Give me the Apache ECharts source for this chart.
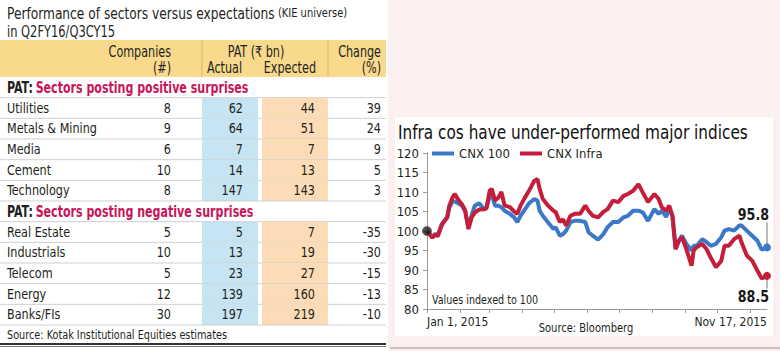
<!DOCTYPE html>
<html>
<head>
<meta charset="utf-8">
<script src="https://cdn.jsdelivr.net/npm/echarts@6/dist/echarts.min.js"></script>
<style>
html, body { margin: 0; padding: 0; background: #fcefef; }
#chart { width: 780px; height: 351px; }
</style>
</head>
<body>
<div id="chart"></div>
<script>
// ---- table data (Q2FY16/Q3CY15) ----
const positiveSectors = ['Utilities', 'Metals & Mining', 'Media', 'Cement', 'Technology'];
const positiveCompanies = [8, 9, 6, 10, 8];
const positiveActual = [62, 64, 7, 14, 147];
const positiveExpected = [44, 51, 7, 13, 143];
const positiveChange = [39, 24, 9, 5, 3];

const negativeSectors = ['Real Estate', 'Industrials', 'Telecom', 'Energy', 'Banks/FIs'];
const negativeCompanies = [5, 10, 5, 12, 30];
const negativeActual = [5, 13, 23, 139, 197];
const negativeExpected = [7, 19, 27, 160, 219];
const negativeChange = [-35, -30, -15, -13, -10];

// ---- index data (indexed to 100 on Jan 1, 2015) ----
const dates = [
	'2015-01-01', '2015-01-06', '2015-01-09', '2015-01-11', '2015-01-15', '2015-01-20', '2015-01-22',
	'2015-01-25', '2015-01-27', '2015-01-31', '2015-02-03', '2015-02-06', '2015-02-09', '2015-02-12',
	'2015-02-15', '2015-02-19', '2015-02-24', '2015-02-26', '2015-03-01', '2015-03-03', '2015-03-06',
	'2015-03-09', '2015-03-12', '2015-03-15', '2015-03-20', '2015-03-24', '2015-03-27', '2015-03-30',
	'2015-04-03', '2015-04-07', '2015-04-12', '2015-04-15', '2015-04-17', '2015-04-20', '2015-04-25',
	'2015-04-30', '2015-05-02', '2015-05-06', '2015-05-09', '2015-05-12', '2015-05-16', '2015-05-20',
	'2015-05-25', '2015-05-30', '2015-06-02', '2015-06-06', '2015-06-11', '2015-06-16', '2015-06-20',
	'2015-06-25', '2015-06-30', '2015-07-05', '2015-07-09', '2015-07-14', '2015-07-19', '2015-07-23',
	'2015-07-28', '2015-08-03', '2015-08-07', '2015-08-10', '2015-08-14', '2015-08-17', '2015-08-20',
	'2015-08-23', '2015-08-26', '2015-08-29', '2015-09-02', '2015-09-07', '2015-09-09', '2015-09-12',
	'2015-09-17', '2015-09-21', '2015-09-25', '2015-09-30', '2015-10-05', '2015-10-08', '2015-10-12',
	'2015-10-17', '2015-10-22', '2015-10-24', '2015-10-29', '2015-11-03', '2015-11-08', '2015-11-12',
	'2015-11-17'
];
const cnx100 = [
	100, 98.5, 99.2, 98.8, 101.8, 103.5, 106, 107.5, 107.6, 107, 106.5, 105, 100.8, 104,
	106.5, 107.1, 105.6, 105.9, 109, 109.5, 106.5, 106.5, 106.1, 105.2, 104.4, 103.5, 102.3, 103.9,
	105.5, 107.1, 108.2, 107.8, 105.2, 103.9, 102.2, 100.5, 101, 98.8, 99.2, 100.1, 102.3, 102.6,
	102.6, 102.3, 99.7, 98.8, 97.8, 99.2, 101, 102.3, 102.3, 103.5, 103.9, 105.2, 105.2, 104.8,
	102.6, 105.6, 104.4, 105.2, 103.6, 105.6, 103.9, 95.4, 97.5, 98.8, 96.7, 95, 96.2, 96.2,
	97.9, 97.2, 96.2, 96.7, 98.4, 100.1, 100.5, 100.1, 101.4, 101.4, 100.1, 98.8, 97.5, 95.2,
	95.8
];
const cnxInfra = [
	100, 98.3, 99.2, 98.6, 101.6, 103.5, 106.5, 108.6, 109.5, 107.8, 106.8, 105.2, 100.5, 103.5,
	104.7, 105.5, 105.6, 105.9, 110.3, 110.8, 107.8, 108.5, 110, 106.6, 106.1, 105, 104.4, 106.5,
	108.5, 110.3, 112.9, 113.3, 110.8, 108.2, 106.5, 105.2, 104.9, 102.3, 103, 101.4, 103.9, 104.4,
	104.4, 106.5, 105.2, 103.9, 103.5, 104.9, 105.6, 107.8, 107.4, 109, 109.5, 110.3, 112, 109.9,
	107.4, 109.5, 108.2, 106.1, 105.2, 106.5, 103.9, 95.4, 97.5, 98.4, 95.4, 91.1, 95, 95.9,
	96.7, 95.4, 93.2, 90.7, 92.4, 96.2, 96.2, 97.9, 98.8, 97.1, 93.7, 92.4, 89.8, 87.8,
	88.5
];
const monthTicks = [
	'2015-01-01', '2015-02-01', '2015-03-01', '2015-04-01', '2015-05-01', '2015-06-01',
	'2015-07-01', '2015-08-01', '2015-09-01', '2015-10-01', '2015-11-01'
];
const yTicks = { min: 80, max: 120, interval: 5 };
const seriesNames = [ 'CNX 100', 'CNX Infra' ];

// ---- look ---
const FONT = '"Liberation Sans Narrow", "DejaVu Sans Condensed", "Roboto Condensed", Roboto, sans-serif';
const BLUE = '#3c78c8';
const RED = '#c41e3a';
const INK = '#231f20';
const CRIMSON = '#c8155a';
const MONTHS = [ 'Jan', 'Feb', 'Mar', 'Apr', 'May', 'Jun', 'Jul', 'Aug', 'Sep', 'Oct', 'Nov', 'Dec' ];

// column positions inside the table grid (x axis runs 0..388 px)
const tableCols = {
	name: 7,
	companies: 171,
	actual: 243,
	expected: 315,
	change: 381,
	actualBand: [ 202, 258 ],
	expectedBand: [ 262, 328 ],
	right: 386
};

// dates are drawn on a numeric (timestamp) axis so ticks can sit on month starts
const toTime = function ( s ) {
	const p = s.split( '-' ).map( Number );
	return new Date( p[ 0 ], p[ 1 ] - 1, p[ 2 ] ).getTime();
};

// plain text element, squeezed sideways because the source face is condensed
const label = function ( x, y, text, font, align, squeeze, fill ) {
	return {
		type: 'text',
		x: x,
		y: y,
		scaleX: squeeze || 1,
		style: {
			text: String( text ),
			fill: fill || INK,
			font: font + ' ' + FONT,
			align: align || 'left',
			verticalAlign: 'middle'
		}
	};
};

// rows of the table: a section heading followed by its sectors
const tableRows = [];
const pushSection = function ( title, sectors, companies, actual, expected, change ) {
	tableRows.push( { section: title } );
	sectors.forEach( ( name, i ) => {
		tableRows.push( {
			name: name,
			companies: companies[ i ],
			actual: actual[ i ],
			expected: expected[ i ],
			change: change[ i ]
		} );
	} );
};
pushSection( 'Sectors posting positive surprises', positiveSectors, positiveCompanies,
	positiveActual, positiveExpected, positiveChange );
pushSection( 'Sectors posting negative surprises', negativeSectors, negativeCompanies,
	negativeActual, negativeExpected, negativeChange );

const renderTableRow = function ( params, api ) {
	const row = tableRows[ params.dataIndex ];
	const mid = api.coord( [ 0, api.value( 1 ) ] )[ 1 ];
	const h = api.size( [ 0, 1 ] )[ 1 ];
	const top = mid - h / 2;
	const px = ( v ) => api.coord( [ v, 0 ] )[ 0 ];
	const children = [];

	if ( row.section ) {
		children.push( {
			type: 'text',
			x: px( tableCols.name ),
			y: mid,
			scaleX: 0.82,
			style: {
				text: '{a|PAT:} {b|' + row.section + '}',
				verticalAlign: 'middle',
				rich: {
					a: { fill: INK, font: 'bold 15px ' + FONT },
					b: { fill: CRIMSON, font: 'bold 15px ' + FONT }
				}
			}
		} );
	} else {
		children.push( {
			type: 'rect',
			shape: { x: px( tableCols.actualBand[ 0 ] ), y: top, width: px( tableCols.actualBand[ 1 ] ) - px( tableCols.actualBand[ 0 ] ), height: h },
			style: { fill: '#c6e4f2' }
		} );
		children.push( {
			type: 'rect',
			shape: { x: px( tableCols.expectedBand[ 0 ] ), y: top, width: px( tableCols.expectedBand[ 1 ] ) - px( tableCols.expectedBand[ 0 ] ), height: h },
			style: { fill: '#fcdcb6' }
		} );
		children.push( label( px( tableCols.name ), mid, row.name, '14px', 'left', 0.89 ) );
		children.push( label( px( tableCols.companies ), mid, row.companies, '14px', 'right', 0.89 ) );
		children.push( label( px( tableCols.actual ), mid, row.actual, '14px', 'right', 0.89 ) );
		children.push( label( px( tableCols.expected ), mid, row.expected, '14px', 'right', 0.89 ) );
		children.push( label( px( tableCols.change ), mid, row.change, '14px', 'right', 0.89 ) );
	}
	// row separator
	children.push( {
		type: 'line',
		shape: { x1: px( 0 ), y1: top + h, x2: px( tableCols.right ), y2: top + h },
		style: { stroke: '#cfcfcf', lineWidth: 1 }
	} );
	return { type: 'group', children: children };
};

// end-of-line value markers (dot, leader and value)
const endColors = [ BLUE, RED ];
const endMarks = [
	[ toTime( dates[ dates.length - 1 ] ), cnx100[ cnx100.length - 1 ], 1 ],
	[ toTime( dates[ dates.length - 1 ] ), cnxInfra[ cnxInfra.length - 1 ], -1 ]
];
const renderEndMark = function ( params, api ) {
	const pt = api.coord( [ api.value( 0 ), api.value( 1 ) ] );
	const up = api.value( 2 ) > 0;
	return {
		type: 'group',
		children: [
			{
				type: 'line',
				shape: { x1: pt[ 0 ], y1: pt[ 1 ], x2: pt[ 0 ], y2: up ? pt[ 1 ] - 25 : pt[ 1 ] + 13 },
				style: { stroke: '#777', lineWidth: 1 }
			},
			{
				type: 'circle',
				shape: { cx: pt[ 0 ], cy: pt[ 1 ], r: 4 },
				style: { fill: endColors[ params.dataIndex ] }
			},
			label( pt[ 0 ] + 2, up ? pt[ 1 ] - 33 : pt[ 1 ] + 21, api.value( 1 ).toFixed( 1 ), 'bold 16px', 'right', 0.88, '#1a1a1a' )
		]
	};
};

const chart = echarts.init( document.getElementById( 'chart' ), null, { renderer: 'svg' } );

chart.setOption( {
	animation: false,
	backgroundColor: '#fcefef',
	textStyle: { fontFamily: FONT },
	graphic: [
		// panels
		{ type: 'rect', shape: { x: 0, y: 0, width: 388, height: 351 }, style: { fill: '#ffffff' } },
		{ type: 'rect', shape: { x: 395, y: 117, width: 378, height: 219 }, style: { fill: '#ffffff' } },
		{ type: 'rect', shape: { x: 0, y: 343, width: 386, height: 2 }, style: { fill: '#333333' } },
		{ type: 'rect', shape: { x: 0, y: 346, width: 386, height: 1 }, style: { fill: '#777777' } },
		{ type: 'rect', shape: { x: 390, y: 347, width: 390, height: 2 }, style: { fill: '#c8c0c0' } },
		// table title
		{
			type: 'text', x: 7, y: 13, scaleX: 0.85,
			style: {
				text: '{a|Performance of sectors versus expectations} {b|(KIE universe)}',
				verticalAlign: 'middle',
				rich: {
					a: { fill: INK, font: '16px ' + FONT },
					b: { fill: INK, font: '13px ' + FONT }
				}
			}
		},
		label( 7, 32, 'in Q2FY16/Q3CY15', '15px', 'left', 0.85 ),
		// header band
		{ type: 'rect', shape: { x: 0, y: 40, width: 386, height: 37 }, style: { fill: '#f9d98c' } },
		{ type: 'line', shape: { x1: 202, y1: 40, x2: 202, y2: 77 }, style: { stroke: '#d9b56a', lineWidth: 1 } },
		{ type: 'line', shape: { x1: 328, y1: 40, x2: 328, y2: 77 }, style: { stroke: '#d9b56a', lineWidth: 1 } },
		label( 171, 52, 'Companies', '15px', 'right', 0.83 ),
		label( 171, 68, '(#)', '15px', 'right', 0.83 ),
		label( 256, 52, 'PAT (₹ bn)', '15px', 'center', 0.83 ),
		label( 207, 68, 'Actual', '15px', 'left', 0.83 ),
		label( 316, 68, 'Expected', '15px', 'right', 0.83 ),
		label( 381, 52, 'Change', '15px', 'right', 0.83 ),
		label( 381, 68, '(%)', '15px', 'right', 0.83 ),
		label( 7, 335, 'Source: Kotak Institutional Equities estimates', '13px', 'left', 0.83 ),
		// line chart texts
		label( 398, 132, 'Infra cos have under-performed major indices', '20px', 'left', 0.85, '#111' ),
		label( 432, 300, 'Values indexed to 100', '13px', 'left', 0.82 ),
		label( 586, 328, 'Source: Bloomberg', '13px', 'center', 0.85 )
	],
	legend: {
		data: seriesNames,
		left: 432,
		top: 147,
		padding: 0,
		itemWidth: 22,
		itemHeight: 4,
		itemGap: 10,
		icon: 'rect',
		textStyle: { fontSize: 13, color: INK, fontFamily: FONT }
	},
	grid: [
		{ left: 0, top: 77, width: 388, height: 248 },
		{ left: 427, right: 13, top: 153, bottom: 42 }
	],
	xAxis: [
		{ gridIndex: 0, type: 'value', min: 0, max: 388, show: false },
		{
			gridIndex: 1,
			type: 'value',
			min: toTime( dates[ 0 ] ),
			max: toTime( dates[ dates.length - 1 ] ),
			splitLine: { show: false },
			axisLine: { lineStyle: { color: '#9a9a9a' } },
			axisTick: { show: true, length: 4, customValues: monthTicks.map( toTime ), lineStyle: { color: '#9a9a9a' } },
			axisLabel: {
				customValues: [ toTime( dates[ 0 ] ), toTime( dates[ dates.length - 1 ] ) ],
				alignMinLabel: 'left',
				alignMaxLabel: 'right',
				margin: 7,
				fontSize: 12,
				color: INK,
				fontFamily: FONT,
				formatter: function ( value ) {
					const d = new Date( value );
					return MONTHS[ d.getMonth() ] + ' ' + d.getDate() + ', ' + d.getFullYear();
				}
			}
		}
	],
	yAxis: [
		{ gridIndex: 0, type: 'category', inverse: true, data: tableRows.map( ( r, i ) => String( i ) ), show: false },
		{
			gridIndex: 1,
			type: 'value',
			min: yTicks.min,
			max: yTicks.max,
			interval: yTicks.interval,
			splitLine: { show: false },
			axisLine: { show: true, lineStyle: { color: '#9a9a9a' } },
			axisTick: { show: true, length: 4, lineStyle: { color: '#9a9a9a' } },
			axisLabel: { margin: 8, fontSize: 13, color: INK, fontFamily: FONT }
		}
	],
	series: [
		{
			type: 'custom',
			name: 'table',
			xAxisIndex: 0,
			yAxisIndex: 0,
			silent: true,
			data: tableRows.map( ( r, i ) => [ 0, i ] ),
			renderItem: renderTableRow
		},
		{
			type: 'line',
			name: seriesNames[ 0 ],
			xAxisIndex: 1,
			yAxisIndex: 1,
			showSymbol: false,
			color: BLUE,
			lineStyle: { width: 4, color: BLUE },
			data: dates.map( ( d, i ) => [ toTime( d ), cnx100[ i ] ] )
		},
		{
			type: 'line',
			name: seriesNames[ 1 ],
			xAxisIndex: 1,
			yAxisIndex: 1,
			showSymbol: false,
			color: RED,
			lineStyle: { width: 4, color: RED },
			data: dates.map( ( d, i ) => [ toTime( d ), cnxInfra[ i ] ] )
		},
		{
			type: 'scatter',
			name: 'start',
			xAxisIndex: 1,
			yAxisIndex: 1,
			symbolSize: 9,
			itemStyle: { color: '#1b1b1b', borderColor: '#8a5a5a', borderWidth: 1 },
			data: [ [ toTime( dates[ 0 ] ), cnx100[ 0 ] ] ],
			z: 5
		},
		{
			type: 'custom',
			name: 'ends',
			xAxisIndex: 1,
			yAxisIndex: 1,
			data: endMarks,
			renderItem: renderEndMark,
			z: 5
		}
	]
} );
</script>
</body>
</html>
